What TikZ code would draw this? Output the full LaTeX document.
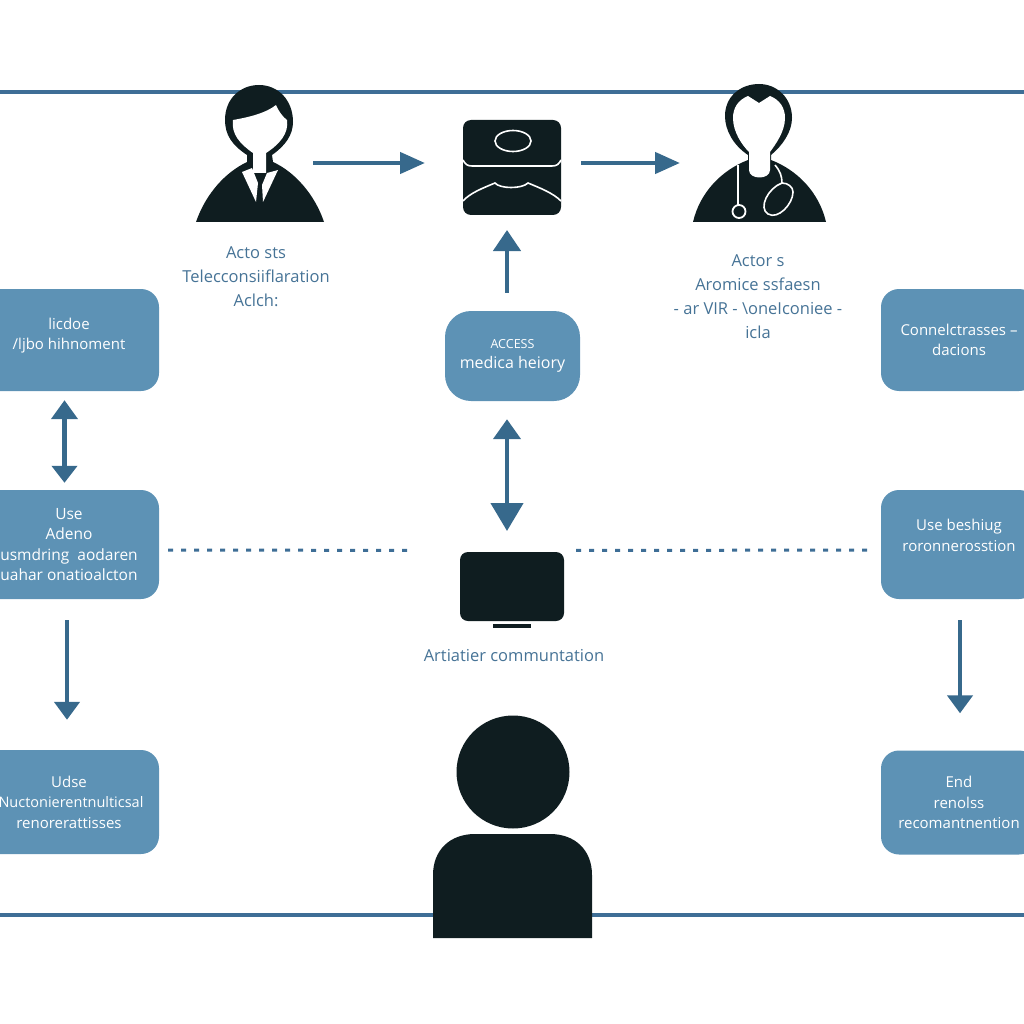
\documentclass[tikz,border=0pt]{standalone}
\usepackage{fontspec}
\setmainfont{Open Sans}
\usetikzlibrary{arrows.meta,positioning}
\definecolor{ink}{RGB}{15,29,32}
\definecolor{boxcol}{RGB}{93,146,181}
\definecolor{rulecol}{RGB}{62,110,150}
\definecolor{flowcol}{RGB}{55,105,140}
\definecolor{labelcol}{RGB}{70,115,150}
\tikzstyle{stepbox}=[fill=boxcol, rounded corners=18pt, text=white, align=center, inner sep=0pt, font=\fontsize{15}{20.5}\selectfont]
\tikzstyle{wideleft}=[stepbox, minimum width=180pt]
\tikzstyle{wideright}=[stepbox, minimum width=156pt]
\tikzstyle{spot}=[inner sep=0pt, outer sep=0pt]
\tikzstyle{caption}=[text=labelcol, align=center, inner sep=0pt, font=\fontsize{16.5}{24}\selectfont]
\tikzstyle{flow}=[draw=flowcol, line width=4.5pt]
\tikzstyle{rule}=[draw=rulecol, line width=4pt]
\tikzstyle{dots}=[draw=rulecol, line width=3pt, dash pattern=on 5pt off 8pt]
\begin{document}
\begin{tikzpicture}[x=1pt,y=-1pt]
    \useasboundingbox (0,0) rectangle (1024,1024);
    \coordinate (topa) at (0,92);
    \coordinate (topb) at (1024,92);
    \coordinate (bota) at (0,915);
    \coordinate (botb) at (1024,915);
    \path[rule] (topa) -- (topb);
    \path[rule] (bota) -- (botb);

    \node[spot, minimum width=128pt, minimum height=137pt] (patient) at (260,153.5) {};
    \node[spot, minimum width=98pt, minimum height=95pt] (device) at (512,167.5) {};
    \node[spot, minimum width=132pt, minimum height=138pt] (doctor) at (760,153) {};
    \node[spot, minimum width=104pt, minimum height=69pt] (monitor) at (512,586.5) {};

    % patient
    \fill[ink] (196,222) .. controls (206,193) and (226,172) .. (247,162) -- (247,155) .. controls (232,145) and (225,135) .. (225,120) .. controls (225,98) and (241,85) .. (259,85) .. controls (278,85) and (293,100) .. (293,122) .. controls (293,135) and (285,146) .. (272,155) -- (273,162) .. controls (295,172) and (315,195) .. (324,222) -- cycle;
    \fill[white] (233,120) .. controls (250,117) and (266,113) .. (276,105) .. controls (279,112) and (283,117) .. (287,120) .. controls (289,133) and (280,144) .. (266,153) -- (266,173) -- (253,173) -- (253,153) .. controls (240,144) and (231,134) .. (233,120) -- cycle;
    \fill[white] (242,172) -- (252,168) -- (258,183) -- (256,202) -- cycle;
    \fill[white] (278,170) -- (267,173) -- (262,185) -- (263,202) -- cycle;

    % doctor
    \fill[ink] (693,222) .. controls (700,192) and (722,170) .. (748,160) -- (748,155) .. controls (733,145) and (725,130) .. (725,116) .. controls (725,96) and (741,84) .. (759,84) .. controls (777,84) and (792,98) .. (792,118) .. controls (792,132) and (782,146) .. (771,155) -- (771,160) .. controls (797,170) and (819,192) .. (826,222) -- cycle;
    \fill[white] (748,96) -- (759,103) -- (770,96) .. controls (780,100) and (785,108) .. (785,118) .. controls (785,132) and (775,145) .. (770,152) -- (770,170) .. controls (770,180) and (749,180) .. (749,170) -- (749,152) .. controls (742,145) and (733,132) .. (733,118) .. controls (733,108) and (738,100) .. (748,96) -- cycle;
    \draw[white, line width=1.6pt] (738,165) -- (738,206);
    \draw[white, line width=1.8pt] (739,211.5) circle[radius=6.5];
    \draw[white, line width=1.6pt] (775,165) .. controls (780,171) and (782,176) .. (782,183) .. controls (768,188) and (758,208) .. (768,214) .. controls (778,220) and (793,204) .. (793,192) .. controls (793,187) and (788,183) .. (782,183);

    % device
    \fill[ink, rounded corners=8pt] (463,120) rectangle (561,215);
    \draw[white, line width=1.6pt] (513,141) ellipse[x radius=18, y radius=10.5];
    \draw[white, line width=1.6pt] (463,160) .. controls (465,164) and (467,166) .. (472,166) -- (552,166) .. controls (557,166) and (559,164) .. (561,160);
    \draw[white, line width=1.6pt] (463,201) .. controls (470,193) and (483,188) .. (495,183) .. controls (500,189) and (522,189) .. (528,183) .. controls (540,188) and (553,193) .. (561,201);

    % monitor
    \fill[ink, rounded corners=8pt] (460,552) rectangle (564,621);
    \fill[ink] (493,624) rectangle (531,628);

    % person
    \fill[ink] (513,772) circle[radius=56.5];
    \fill[ink] (433,938) -- (433,875) .. controls (433,850) and (450,834) .. (475,834) -- (550,834) .. controls (575,834) and (592,850) .. (592,875) -- (592,938) -- cycle;

    \node[stepbox, minimum width=135pt, minimum height=90pt, rounded corners=26pt, font=\fontsize{16}{20.5}\selectfont] (access) at (512.5,356) {\fontsize{12.5}{20.5}\selectfont ACCESS\\medica heiory};

    \node[wideleft, minimum height=102pt, text depth=12pt] (lhist) at (69,340) {licdoe\\/ljbo hihnoment};
    \node[wideleft, minimum height=109pt, font=\fontsize{15.5}{20.5}\selectfont] (ladeno) [below of=lhist, node distance=204.5pt] {Use\\Adeno\\usmdring\ \ aodaren\\uahar onatioalcton};
    \node[wideleft, minimum height=104pt] (lend) [below of=ladeno, node distance=257.5pt] {Udse\\\hspace*{4pt}\fontsize{14.5}{20.5}\selectfont Nuctonierentnulticsal\\renorerattisses};

    \node[wideright, minimum height=102pt] (rconn) at (959,340) {Connelctrasses --\\dacions};
    \node[wideright, minimum height=109pt, text depth=18pt] (rbesh) [below of=rconn, node distance=204.5pt] {Use beshiug\\roronnerosstion};
    \node[wideright, minimum height=104pt] (rend) [below of=rbesh, node distance=258pt] {End\\renolss\\recomantnention};

    \node[caption] (patientcap) at (256,276.5) {Acto sts\\Telecconsiiflaration\\Aclch:};
    \node[caption] (doctorcap) at (758,296.5) {Actor s\\Aromice ssfaesn\\- ar VIR - \textbackslash oneIconiee -\\icla};
    \node[caption] (monitorcap) at (514,656) {Artiatier communtation};

    \path[flow, -{Triangle[length=25pt,width=21pt]}, shorten <=-11pt, shorten >=38pt] ([yshift=-9.5pt]patient.east) -- ([yshift=4.5pt]device.west);
    \path[flow, -{Triangle[length=25pt,width=21pt]}, shorten <=20pt, shorten >=14pt] ([yshift=4.5pt]device.east) -- ([yshift=-10pt]doctor.west);
    \path[flow, -{Triangle[length=21pt,width=27pt]}, shorten <=18pt, shorten >=15pt] ([xshift=-5.5pt]access.north) -- ([xshift=-5pt]device.south);
    \path[flow, {Triangle[length=20pt,width=27pt]}-{Triangle[length=28pt,width=32pt]}, shorten <=18pt, shorten >=21pt] ([xshift=-5.5pt]access.south) -- ([xshift=-5pt]monitor.north);
    \path[flow, {Triangle[length=19pt,width=26pt]}-{Triangle[length=17pt,width=25pt]}, shorten <=9pt, shorten >=7pt] ([xshift=-4.5pt]lhist.south) -- ([xshift=-4.5pt]ladeno.north);
    \path[flow, -{Triangle[length=18pt,width=25pt]}, shorten <=21pt, shorten >=30pt] ([xshift=-2pt]ladeno.south) -- ([xshift=-2pt]lend.north);
    \path[flow, -{Triangle[length=18pt,width=25pt]}, shorten <=21pt, shorten >=37pt] ([xshift=1pt]rbesh.south) -- ([xshift=1pt]rend.north);

    \path[dots, shorten <=9pt, shorten >=52pt] ([yshift=-5.5pt]ladeno.east) -- ([yshift=36pt]monitor.west);
    \path[dots, shorten <=12pt, shorten >=9pt] ([yshift=36pt]monitor.east) -- ([yshift=-5.5pt]rbesh.west);
\end{tikzpicture}
\end{document}
